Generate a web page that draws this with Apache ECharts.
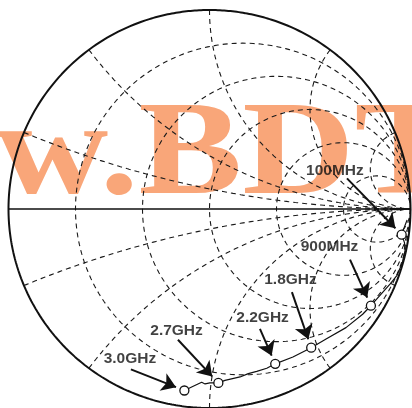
<!DOCTYPE html>
<html>
<head>
<meta charset="utf-8">
<script src="https://cdn.jsdelivr.net/npm/echarts@6/dist/echarts.min.js"></script>
<style>
html,body{margin:0;padding:0;background:#fff;}
#chart{width:412px;height:408px;}
</style>
</head>
<body>
<div id="chart"></div>
<script>
// Smith chart grid values (normalized impedance)
const resistanceCircles = [0.2, 0.5, 1, 2, 5];
const reactanceArcs = [0.2, 0.5, 1, 2, 5];

const traceRe = [0.983, 0.968, 0.956, 0.970, 0.973, 0.958, 0.933, 0.898, 0.858, 0.803, 0.762, 0.679, 0.580, 0.506, 0.415, 0.327, 0.285, 0.235, 0.193, 0.152, 0.077, 0.044, 0.002, -0.022, -0.039, -0.081, -0.125];
const traceIm = [-0.055, -0.095, -0.129, -0.169, -0.209, -0.274, -0.333, -0.378, -0.423, -0.486, -0.529, -0.596, -0.653, -0.697, -0.744, -0.778, -0.800, -0.816, -0.827, -0.844, -0.861, -0.874, -0.874, -0.879, -0.871, -0.891, -0.912];

// Frequency markers
const markerLabels = ['100MHz', '900MHz', '1.8GHz', '2.2GHz', '2.7GHz', '3.0GHz'];
const markerRe = [0.956, 0.803, 0.506, 0.327, 0.044, -0.125];
const markerIm = [-0.129, -0.486, -0.697, -0.778, -0.874, -0.912];

// Annotation layout (label centres and arrow tails, in Gamma plane units)
const labelPos = [[0.624, 0.194], [0.597, -0.189], [0.403, -0.356], [0.264, -0.547], [-0.164, -0.612], [-0.396, -0.754]];
const arrowTail = [[0.684, 0.154], [0.699, -0.254], [0.410, -0.418], [0.251, -0.602], [-0.157, -0.657], [-0.391, -0.806]];

function gamma(r, x) {
  const d = (r + 1) * (r + 1) + x * x;
  return [(r * r - 1 + x * x) / d, (2 * x) / d];
}
function rCircle(r) {
  const pts = [];
  const N = 600;
  for (let i = 0; i <= N; i++) {
    const t = -Math.PI / 2 + 1e-4 + (Math.PI - 2e-4) * i / N;
    pts.push(gamma(r, Math.tan(t)));
  }
  return pts;
}
function xArc(x) {
  const pts = [];
  const N = 500;
  for (let i = 0; i <= N; i++) {
    const s = (Math.PI / 2 - 1e-4) * i / N;
    pts.push(gamma(Math.tan(s), x));
  }
  return pts;
}

const gridStyle = { color: '#1a1a1a', width: 1.1, type: [5, 4] };
const series = [];
resistanceCircles.forEach(r => {
  series.push({ type: 'line', data: rCircle(r), showSymbol: false, silent: true, lineStyle: gridStyle, z: 1 });
});
reactanceArcs.forEach(x => {
  [x, -x].forEach(xx => {
    series.push({ type: 'line', data: xArc(xx), showSymbol: false, silent: true, lineStyle: gridStyle, z: 1 });
  });
});
// outer circle (r = 0) and real axis (x = 0)
series.push({ type: 'line', data: rCircle(0), showSymbol: false, lineStyle: { color: '#111', width: 2 }, z: 2 });
series.push({ type: 'line', data: xArc(0), showSymbol: false, lineStyle: { color: '#111', width: 1.3 }, z: 2 });
// trace
series.push({ type: 'line', data: traceRe.map((v, i) => [v, traceIm[i]]), showSymbol: false, lineStyle: { color: '#111', width: 1.2 }, z: 3 });
// arrows
const gap = 9 / 201;
series.push({
  type: 'lines', coordinateSystem: 'cartesian2d', z: 4,
  symbol: ['none', 'arrow'], symbolSize: 14,
  lineStyle: { color: '#111', width: 2, opacity: 1 },
  data: markerRe.map((mx, i) => {
    const t = arrowTail[i];
    const dx = mx - t[0], dy = markerIm[i] - t[1];
    const L = Math.sqrt(dx * dx + dy * dy);
    return { coords: [t, [mx - dx / L * gap, markerIm[i] - dy / L * gap]] };
  })
});
// markers
series.push({
  type: 'scatter', z: 5, symbol: 'circle', symbolSize: 9,
  itemStyle: { color: '#fff', borderColor: '#111', borderWidth: 1.3, opacity: 1 },
  data: markerRe.map((v, i) => [v, markerIm[i]])
});
// labels
series.push({
  type: 'scatter', z: 6, symbolSize: 1, itemStyle: { color: 'rgba(0,0,0,0)' },
  label: { show: true, position: 'inside', formatter: p => markerLabels[p.dataIndex],
    fontFamily: '"Liberation Sans", Arial, sans-serif', fontWeight: 'bold', fontSize: 15.5, color: '#111' },
  data: labelPos.map(p => [p[0], p[1]])
});

const chart = echarts.init(document.getElementById('chart'), null, { renderer: 'canvas' });
chart.setOption({
  animation: false,
  backgroundColor: '#fff',
  grid: { left: 8.5, top: 10, width: 402, height: 402, containLabel: false },
  xAxis: { type: 'value', min: -1, max: 1, show: false },
  yAxis: { type: 'value', min: -1, max: 1, show: false },
  series: series,
  graphic: [{
    type: 'text', z: 0, zlevel: 0, x: -4, y: 158, scaleX: 1.16, scaleY: 1,
    style: { text: 'w.BDTIC', font: 'bold 134px "Liberation Serif", "Times New Roman", serif',
      fill: '#F9A679', verticalAlign: 'middle', align: 'left' }
  }]
});
</script>
</body>
</html>
